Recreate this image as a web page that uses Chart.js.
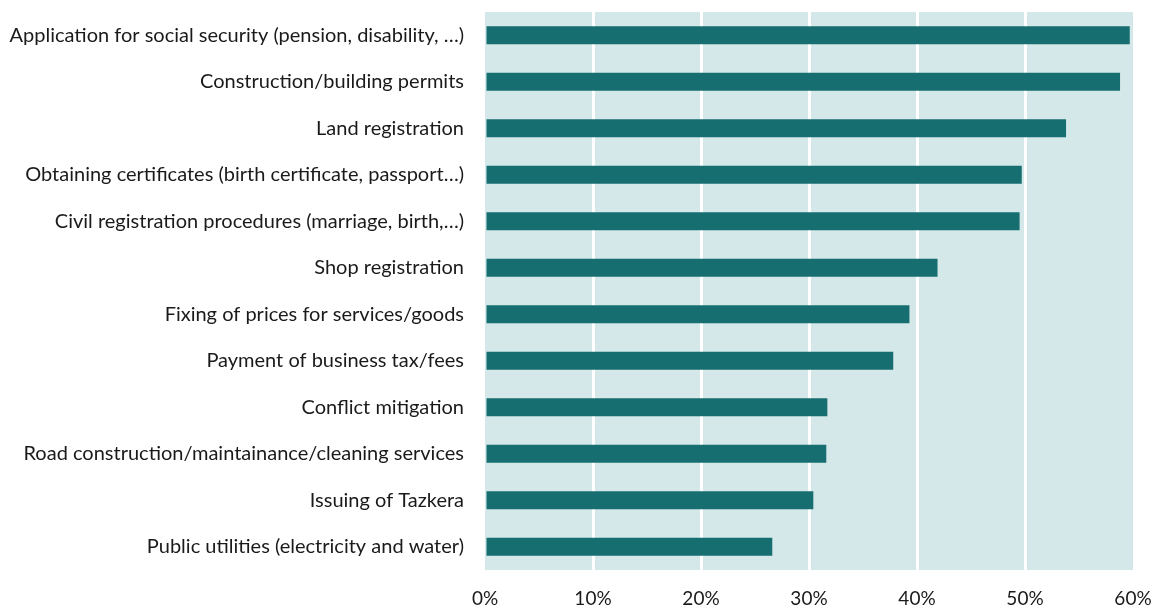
<!DOCTYPE html>
<html><head><meta charset="utf-8">
<script src="https://cdn.jsdelivr.net/npm/chart.js@4"></script>
<style>html,body{margin:0;padding:0;background:#fff}#wrap{width:1155px;height:606px}</style>
</head><body><div id="wrap"><canvas id="c" width="1155" height="606"></canvas></div>
<script>
const categories = [
  "Application for social security (pension, disability, …)",
  "Construction/building permits",
  "Land registration",
  "Obtaining certificates (birth certificate, passport…)",
  "Civil registration procedures (marriage, birth,…)",
  "Shop registration",
  "Fixing of prices for services/goods",
  "Payment of business tax/fees",
  "Conflict mitigation",
  "Road construction/maintainance/cleaning services",
  "Issuing of Tazkera",
  "Public utilities (electricity and water)"
];
const values = [59.7, 58.8, 53.8, 49.7, 49.5, 41.9, 39.3, 37.8, 31.7, 31.6, 30.4, 26.6];
const xTicks = [0, 10, 20, 30, 40, 50, 60];

const bgPlugin = {
  id: 'bg',
  beforeDraw(chart) {
    const {ctx, chartArea: a} = chart;
    ctx.save();
    ctx.fillStyle = '#d4e8ea';
    ctx.fillRect(a.left, a.top, a.right - a.left, a.bottom - a.top);
    ctx.restore();
  }
};

function zeroPad(s) { s.paddingTop = 0; s.paddingBottom = 0; s.paddingLeft = 0; s.paddingRight = 0; }

new Chart(document.getElementById('c'), {
  type: 'bar',
  data: {
    labels: categories,
    datasets: [{ data: values, backgroundColor: '#176e70', barPercentage: 0.39, categoryPercentage: 1 }]
  },
  plugins: [bgPlugin],
  options: {
    indexAxis: 'y',
    responsive: false,
    animation: false,
    layout: { autoPadding: false, padding: { top: 12, right: 22, left: 0, bottom: 0 } },
    plugins: { legend: { display: false }, tooltip: { enabled: false } },
    scales: {
      x: {
        min: 0, max: 60,
        afterBuildTicks(s) { s.ticks = xTicks.map(v => ({ value: v })); },
        afterFit(s) { s.height = 36; zeroPad(s); },
        border: { display: false },
        grid: {
          drawTicks: false,
          lineWidth: 3,
          color: ctx => (ctx.tick && (ctx.tick.value === 0 || ctx.tick.value === 60)) ? 'rgba(0,0,0,0)' : '#ffffff'
        },
        ticks: {
          padding: 17,
          maxRotation: 0,
          color: '#1a1a1a',
          font: { family: 'Lato', size: 19 },
          callback: v => v + '%'
        }
      },
      y: {
        afterFit(s) { s.width = 485; zeroPad(s); },
        border: { display: false },
        grid: { display: false, drawTicks: false },
        ticks: {
          padding: 21,
          color: '#1a1a1a',
          font: { family: 'Lato', size: 20 }
        }
      }
    }
  }
});
</script></body></html>
